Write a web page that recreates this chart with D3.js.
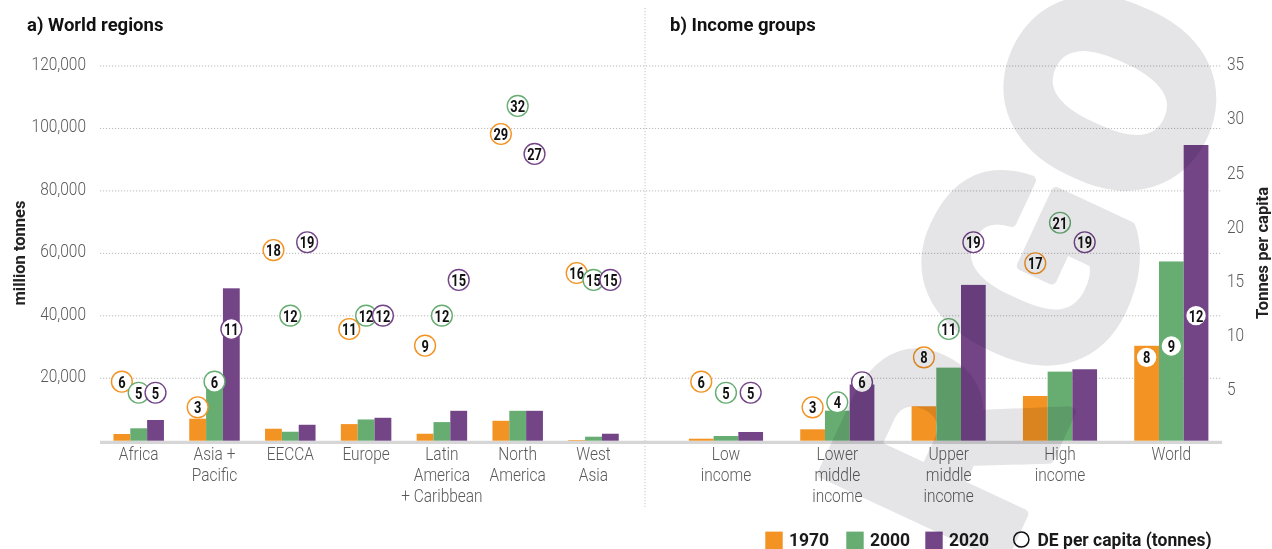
<!DOCTYPE html>
<meta charset="utf-8">
<style>
body { margin: 0; background: #fff; }
svg { display: block; }
.grid line { stroke: #b8b8b8; stroke-width: 1; stroke-dasharray: 1.2 1.8; }
.sep { stroke: #c4c4c4; stroke-width: 1; stroke-dasharray: 1.2 1.8; }
.axis text, .cat text {
  font-family: Roboto, "Open Sans", sans-serif;
  font-weight: 300;
  font-size: 18px;
  fill: #5a5a5a;
  transform-box: fill-box;
}
.axis.left text { transform-origin: right center; transform: scaleX(0.86); }
.axis.right text { transform-origin: left center; transform: scaleX(0.86); }
.cat text { transform-origin: center; transform: scaleX(0.86); }
.title { font-family: Roboto, sans-serif; font-weight: 700; font-size: 18.5px; fill: #111; }
.ytitle { font-family: Roboto, sans-serif; font-weight: 700; font-size: 16.5px; fill: #222; }
.pc text {
  font-family: Roboto, sans-serif; font-weight: 700; font-size: 16.5px; fill: #111;
  transform-box: fill-box; transform-origin: center; transform: scaleX(0.78);
}
.legend text { font-family: Roboto, sans-serif; font-weight: 700; font-size: 17.5px; fill: #1a1a1a; }
.watermark text {
  font-family: Roboto, sans-serif; font-weight: 900; font-size: 280px;
  fill: #e5e5e8; stroke: #e5e5e8; stroke-width: 10; stroke-linejoin: round;
}
.watermark { mix-blend-mode: multiply; }
</style>
<body>
  <svg></svg>
</body>
<script src="https://cdn.jsdelivr.net/npm/d3@7"></script>
<script>

// ---- data ----
var years = ["1970", "2000", "2020"];
var yearColors = ["#f39323", "#67ad72", "#734587"];

var regions = ["Africa", "Asia + Pacific", "EECCA", "Europe", "Latin America + Caribbean", "North America", "West Asia"];
var regionLabels = [["Africa"], ["Asia +", "Pacific"], ["EECCA"], ["Europe"], ["Latin", "America", "+ Caribbean"], ["North", "America"], ["West", "Asia"]];
// domestic extraction, million tonnes
var regionDE1970 = [2150, 7050, 3830, 5320, 2230, 6380, 200];
var regionDE2000 = [3970, 20000, 2870, 6800, 5960, 9570, 1280];
var regionDE2020 = [6630, 48800, 5100, 7340, 9570, 9570, 2230];
// DE per capita, tonnes
var regionPC1970 = [5.6, 3.16, 18.14, 10.62, 9.03, 29.19, 15.95];
var regionPC2000 = [4.55, 5.6, 11.89, 11.89, 11.89, 31.86, 15.29];
var regionPC2020 = [4.55, 10.62, 18.88, 11.89, 15.29, 27.29, 15.29];

var incomeGroups = ["Low income", "Lower middle income", "Upper middle income", "High income", "World"];
var incomeLabels = [["Low", "income"], ["Lower", "middle", "income"], ["Upper", "middle", "income"], ["High", "income"], ["World"]];
var incomeDE1970 = [640, 3650, 11030, 14330, 30400];
var incomeDE2000 = [1500, 9620, 23400, 22120, 57400];
var incomeDE2020 = [2790, 18000, 49900, 22880, 94700];
var incomePC1970 = [5.6, 3.16, 7.92, 16.88, 7.92];
var incomePC2000 = [4.55, 3.64, 10.62, 20.74, 9.0];
var incomePC2020 = [4.55, 5.55, 18.88, 18.88, 11.89];

var leftTicks = [20000, 40000, 60000, 80000, 100000, 120000];
var rightTicks = [5, 10, 15, 20, 25, 30, 35];

var watermarkLetters = ["A", "R", "G", "O"];

// ---- chart ----
var width = 1272, height = 549;
var svg = d3.select("svg").attr("width", width).attr("height", height);

var yDE = d3.scaleLinear().domain([0, 120000]).range([440.7, 66]);
var yPC = d3.scaleLinear().domain([0, 35]).range([440.5, 73]);      // circles
var yPCAxis = d3.scaleLinear().domain([0, 35]).range([445.7, 66.2]); // right tick labels

svg.append("g").attr("class", "grid")
  .selectAll("line").data(leftTicks).join("line")
    .attr("x1", 100).attr("x2", 1222)
    .attr("y1", function(d) { return yDE(d); })
    .attr("y2", function(d) { return yDE(d); });

svg.append("line").attr("class", "sep")
  .attr("x1", 645).attr("x2", 645).attr("y1", 8).attr("y2", 507);

svg.append("line")
  .attr("x1", 100).attr("x2", 1222).attr("y1", 442.3).attr("y2", 442.3)
  .attr("stroke", "#d6d6d6").attr("stroke-width", 3.2);

svg.append("text").attr("class", "title").attr("x", 27).attr("y", 31).text("a) World regions");
svg.append("text").attr("class", "title").attr("x", 670).attr("y", 31).text("b) Income groups");

svg.append("text").attr("class", "ytitle")
  .attr("transform", "translate(25,253) rotate(-90)")
  .attr("text-anchor", "middle").text("million tonnes");
svg.append("text").attr("class", "ytitle")
  .attr("transform", "translate(1268,253) rotate(-90)")
  .attr("text-anchor", "middle").text("Tonnes per capita");

svg.append("g").attr("class", "axis left")
  .attr("transform", "translate(100,0)")
  .call(d3.axisLeft(yDE).tickValues(leftTicks).tickSize(0).tickPadding(14).tickFormat(d3.format(",")))
  .call(function(g) { g.select(".domain").remove(); })
  .selectAll("text").attr("dy", 3.5);

svg.append("g").attr("class", "axis right")
  .attr("transform", "translate(1227,0)")
  .call(d3.axisRight(yPCAxis).tickValues(rightTicks).tickSize(0).tickPadding(0))
  .call(function(g) { g.select(".domain").remove(); })
  .selectAll("text").attr("dy", 3.5);

function panel(cats, labels, de, pc, range) {
  var rows = cats.map(function(c, i) {
    return {
      cat: c, lines: labels[i],
      values: years.map(function(y, j) { return { year: y, color: yearColors[j], de: de[j][i], pc: pc[j][i] }; })
    };
  });

  var x0 = d3.scaleBand().domain(cats).range(range).paddingInner(0.334).paddingOuter(0.167);
  var x1 = d3.scaleBand().domain(years).range([0, x0.bandwidth()]);

  var grp = svg.append("g").selectAll("g").data(rows).join("g")
      .attr("transform", function(d) { return "translate(" + x0(d.cat) + ",0)"; });

  grp.selectAll("rect").data(function(d) { return d.values; }).join("rect")
      .attr("x", function(d) { return x1(d.year); })
      .attr("width", x1.bandwidth())
      .attr("y", function(d) { return yDE(d.de); })
      .attr("height", function(d) { return yDE(0) - yDE(d.de); })
      .attr("fill", function(d) { return d.color; });

  var dot = grp.append("g").attr("class", "pc")
    .selectAll("g").data(function(d) { return d.values; }).join("g")
      .attr("transform", function(d) { return "translate(" + (x1(d.year) + x1.bandwidth() / 2) + "," + yPC(d.pc) + ")"; });
  dot.append("circle").attr("r", 10.4)
      .attr("fill", "#fff").attr("stroke", function(d) { return d.color; }).attr("stroke-width", 1.4);
  dot.append("text").attr("text-anchor", "middle").attr("dy", 5.9)
      .text(function(d) { return Math.round(d.pc); });

  svg.append("g").attr("class", "cat").selectAll("text").data(rows).join("text")
      .attr("text-anchor", "middle")
      .attr("x", function(d) { return x0(d.cat) + x0.bandwidth() / 2; })
    .selectAll("tspan").data(function(d) { return d.lines; }).join("tspan")
      .attr("x", function() { return this.parentNode.getAttribute("x"); })
      .attr("y", function(d, i) { return 460.5 + i * 21; })
      .text(function(d) { return d; });
}

panel(regions, regionLabels,
  [regionDE1970, regionDE2000, regionDE2020],
  [regionPC1970, regionPC2000, regionPC2020], [100.8, 631.4]);
panel(incomeGroups, incomeLabels,
  [incomeDE1970, incomeDE2000, incomeDE2020],
  [incomePC1970, incomePC2000, incomePC2020], [670.3, 1227]);

// legend
var legend = svg.append("g").attr("class", "legend");
var legendX = [765.3, 846.3, 925.3];
years.forEach(function(y, i) {
  legend.append("rect").attr("x", legendX[i]).attr("y", 531.6).attr("width", 17.4).attr("height", 17.4).attr("fill", yearColors[i]);
  legend.append("text").attr("x", legendX[i] + 23.7).attr("y", 545.7).text(y);
});
legend.append("circle").attr("cx", 1021.3).attr("cy", 539.5).attr("r", 7.6)
  .attr("fill", "#fff").attr("stroke", "#111").attr("stroke-width", 1.5);
legend.append("text").attr("x", 1037.5).attr("y", 545.7).text("DE per capita (tonnes)");

// watermark, laid over everything (one letter every 195px along the rotated baseline)
svg.append("g").attr("class", "watermark")
  .attr("transform", "translate(1110,93) rotate(-65)")
  .selectAll("text").data(watermarkLetters).join("text")
    .attr("text-anchor", "middle")
    .attr("x", function(d, i) { return (i - watermarkLetters.length + 1) * 195; })
    .attr("dy", "0.355em")
    .text(function(d) { return d; });

</script>
